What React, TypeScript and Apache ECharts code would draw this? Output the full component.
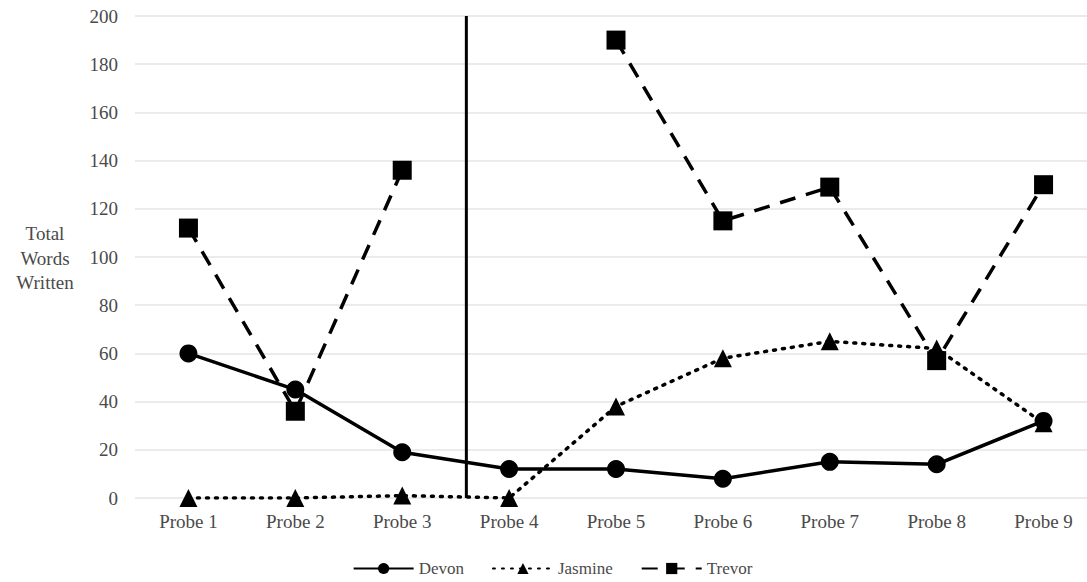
import React, { useEffect, useRef } from "react";
import * as echarts from "echarts";

const categories = ["Probe 1", "Probe 2", "Probe 3", "Probe 4", "Probe 5", "Probe 6", "Probe 7", "Probe 8", "Probe 9"];
const devon = [60, 45, 19, 12, 12, 8, 15, 14, 32];
const jasmine = [0, 0, 1, 0, 38, 58, 65, 62, 31];
const trevor = [112, 36, 136, null, 190, 115, 129, 57, 130];
const phaseChangeX = 3.6; // position between Probe 3 and Probe 4 (category index scale, 1-based)
const yMin = 0;
const yMax = 200;
const yStep = 20;

const FONT = "'Liberation Serif', 'DejaVu Serif', serif";
const TXT = "#4a4a4a";

export default function App() {
  const ref = useRef<HTMLDivElement>(null);
  useEffect(() => {
    if (!ref.current) return;
    const chart = echarts.init(ref.current, null, { renderer: "svg" });
    chart.setOption({
      animation: false,
      textStyle: { fontFamily: FONT },
      grid: { left: 135, right: 8, top: 16, bottom: 84 },
      legend: {
        bottom: 0,
        left: "center",
        itemWidth: 60,
        itemHeight: 14,
        itemGap: 28,
        textStyle: { fontFamily: FONT, fontSize: 17, color: TXT },
        data: ["Devon", "Jasmine", "Trevor"],
      },
      xAxis: [
        {
          type: "category",
          data: categories,
          boundaryGap: true,
          axisLine: { show: false },
          axisTick: { show: false },
          axisLabel: { fontFamily: FONT, fontSize: 19, color: TXT, margin: 14 },
        },
        {
          type: "value",
          min: 0.5,
          max: 9.5,
          show: false,
        },
      ],
      yAxis: {
        type: "value",
        min: yMin,
        max: yMax,
        interval: yStep,
        axisLine: { show: false },
        axisTick: { show: false },
        axisLabel: { fontFamily: FONT, fontSize: 19, color: TXT, margin: 17 },
        splitLine: { lineStyle: { color: "#ebebeb", width: 2 } },
      },
      graphic: [
        {
          type: "text",
          x: 45,
          y: 258,
          style: {
            text: "Total\nWords\nWritten",
            fontFamily: FONT,
            fontSize: 19,
            lineHeight: 24.5,
            fill: TXT,
            align: "center",
            verticalAlign: "middle",
          },
        },
      ],
      series: [
        {
          name: "phase",
          type: "line",
          xAxisIndex: 1,
          data: [
            [phaseChangeX, yMin],
            [phaseChangeX, yMax],
          ],
          symbol: "none",
          lineStyle: { color: "#000", width: 3 },
          silent: true,
          z: 1,
        },
        {
          name: "Devon",
          type: "line",
          data: devon,
          symbol: "circle",
          symbolSize: 18,
          color: "#000",
          itemStyle: { color: "#000" },
          lineStyle: { color: "#000", width: 3.5, type: "solid" },
          z: 3,
        },
        {
          name: "Jasmine",
          type: "line",
          data: jasmine,
          symbol: "triangle",
          symbolSize: 18,
          color: "#000",
          itemStyle: { color: "#000" },
          lineStyle: { color: "#000", width: 3.5, type: [2, 7], cap: "round" },
          z: 3,
        },
        {
          name: "Trevor",
          type: "line",
          data: trevor,
          symbol: "rect",
          symbolSize: 19,
          color: "#000",
          connectNulls: false,
          itemStyle: { color: "#000" },
          lineStyle: { color: "#000", width: 3.5, type: [16, 11] },
          z: 3,
        },
      ],
    });
    return () => chart.dispose();
  }, []);
  return (
    <div style={{ width: 1087, height: 582, position: "absolute", left: 0, top: 0, overflow: "hidden" }}>
      <div ref={ref} style={{ width: 1105, height: 582, position: "absolute", left: 0, top: 0 }} />
    </div>
  );
}
